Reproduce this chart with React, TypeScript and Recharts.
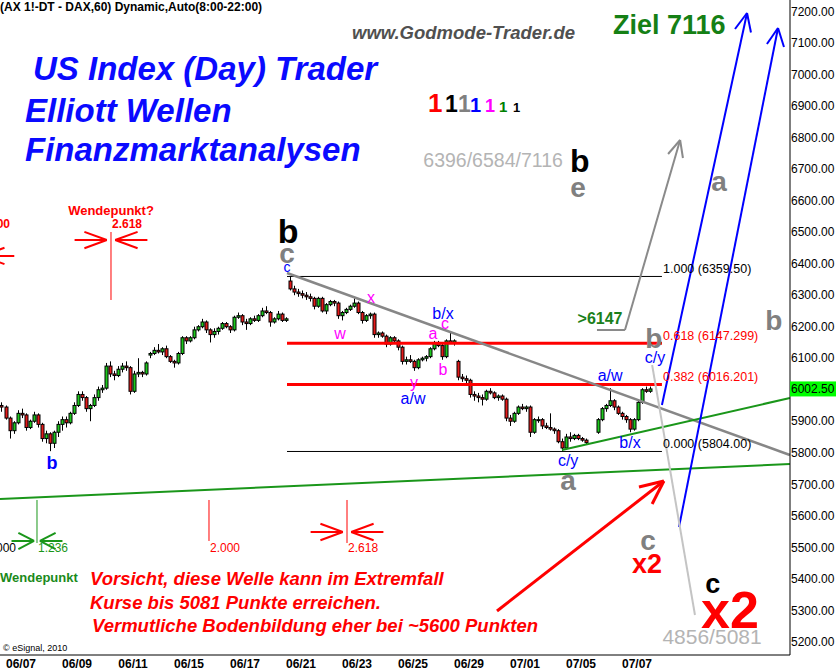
import React from "react";
import {
  ComposedChart,
  Bar,
  XAxis,
  YAxis,
  ReferenceLine,
  ReferenceDot,
} from "recharts";

const FONT = "'Liberation Sans', Arial, Helvetica, sans-serif";
const PER_DAY = 7; // hourly bars drawn per session

// trading sessions on the time axis (index = session number)
const dates = [
  "06/07", "06/08", "06/09", "06/10", "06/11", "06/14", "06/15", "06/16",
  "06/17", "06/18", "06/21", "06/22", "06/23", "06/24", "06/25", "06/28",
  "06/29", "06/30", "07/01", "07/02", "07/05", "07/06", "07/07",
];
const labelledSessions = [0, 2, 4, 6, 8, 10, 12, 14, 16, 18, 20, 22];
// 6000 is hidden behind the last-price badge
const priceTicks = [
  5200, 5300, 5400, 5500, 5600, 5700, 5800, 5900, 6100, 6200, 6300,
  6400, 6500, 6600, 6700, 6800, 6900, 7000, 7100, 7200,
];
const lastPrice = 6002.5;

// [open, high, low, close]
const june04Tail = [
  [5950, 5960, 5930, 5945],
  [5945, 5950, 5905, 5910],
];
const sessionBars = [
  [[5910,5915,5845,5870],[5870,5900,5860,5895],[5895,5935,5890,5925],[5925,5940,5910,5920],[5920,5925,5870,5880],[5880,5905,5875,5900],[5900,5930,5895,5920]],
  [[5920,5925,5880,5890],[5890,5895,5835,5845],[5845,5870,5830,5860],[5860,5865,5805,5830],[5830,5870,5815,5865],[5865,5900,5850,5890],[5890,5915,5870,5905]],
  [[5905,5915,5880,5895],[5895,5930,5890,5925],[5925,5960,5920,5950],[5950,5995,5945,5985],[5985,5995,5965,5975],[5975,5980,5930,5940],[5940,5955,5900,5950]],
  [[5950,5985,5945,5975],[5975,6010,5965,6000],[6000,6015,5990,6005],[6005,6085,6000,6075],[6075,6090,6040,6050],[6050,6060,6030,6045],[6045,6075,6040,6065]],
  [[6065,6085,6055,6075],[6075,6090,6060,6070],[6070,6075,5985,5995],[5995,6060,5990,6050],[6050,6100,6040,6055],[6055,6060,6040,6050],[6050,6090,6045,6085]],
  [[6110,6120,6100,6115],[6115,6135,6110,6125],[6125,6145,6115,6120],[6120,6135,6110,6130],[6130,6140,6100,6105],[6105,6110,6085,6090],[6090,6095,6070,6085]],
  [[6085,6120,6080,6115],[6115,6170,6110,6165],[6165,6170,6145,6155],[6155,6170,6150,6165],[6165,6200,6160,6190],[6190,6205,6185,6200],[6200,6225,6195,6215]],
  [[6215,6220,6180,6190],[6190,6195,6150,6175],[6175,6195,6165,6185],[6185,6200,6175,6195],[6195,6215,6190,6210],[6210,6215,6195,6200],[6200,6205,6180,6190]],
  [[6190,6235,6185,6230],[6230,6245,6225,6235],[6235,6240,6205,6215],[6215,6225,6190,6210],[6210,6230,6205,6225],[6225,6235,6215,6220],[6220,6240,6215,6235]],
  [[6235,6260,6230,6250],[6250,6265,6240,6245],[6245,6250,6200,6215],[6215,6230,6210,6225],[6225,6250,6220,6240],[6240,6245,6215,6220],[6220,6230,6215,6225]],
  [[6345,6359.5,6315,6320],[6320,6330,6300,6310],[6310,6320,6295,6305],[6305,6315,6290,6300],[6300,6310,6285,6295],[6295,6305,6280,6290],[6290,6295,6255,6265]],
  [[6265,6295,6260,6290],[6290,6295,6245,6250],[6250,6275,6240,6270],[6270,6285,6265,6280],[6280,6285,6265,6275],[6275,6280,6225,6235],[6235,6250,6220,6245]],
  [[6245,6260,6240,6255],[6255,6270,6250,6265],[6265,6290,6260,6275],[6275,6280,6240,6245],[6245,6250,6210,6220],[6220,6240,6215,6235],[6235,6245,6225,6240]],
  [[6240,6245,6165,6175],[6175,6185,6165,6180],[6180,6185,6165,6170],[6170,6175,6135,6145],[6145,6170,6140,6165],[6165,6170,6150,6155],[6155,6160,6125,6135]],
  [[6135,6140,6080,6090],[6090,6105,6080,6095],[6095,6110,6085,6090],[6090,6095,6060,6070],[6070,6100,6065,6095],[6095,6105,6090,6100],[6100,6110,6090,6105]],
  [[6105,6135,6100,6130],[6130,6155,6125,6150],[6150,6155,6135,6140],[6140,6145,6095,6105],[6105,6160,6100,6155],[6155,6180,6145,6150],[6150,6160,6140,6155]],
  [[6090,6095,6030,6040],[6040,6050,6025,6035],[6035,6045,6020,6030],[6030,6035,5975,5985],[5985,5995,5965,5980],[5980,5990,5960,5975],[5975,5985,5950,5970]],
  [[5970,6000,5965,5995],[5995,6005,5985,5990],[5990,5995,5970,5975],[5975,5985,5965,5980],[5980,5985,5965,5970],[5970,5975,5900,5910],[5910,5920,5885,5900]],
  [[5900,5930,5895,5925],[5925,5950,5920,5945],[5945,5955,5935,5940],[5940,5950,5930,5945],[5945,5950,5850,5865],[5865,5910,5860,5905],[5905,5915,5895,5905]],
  [[5905,5910,5875,5885],[5885,5895,5875,5880],[5880,5925,5870,5875],[5875,5880,5860,5870],[5870,5875,5830,5835],[5835,5845,5804,5815],[5815,5860,5810,5850]],
  [[5850,5865,5835,5845],[5845,5860,5840,5855],[5855,5860,5840,5845],[5845,5850,5835,5840],[5840,5845,5825,5832]],
  [[5865,5910,5860,5905],[5905,5945,5900,5940],[5940,5955,5930,5950],[5950,6005,5945,5965],[5965,5970,5935,5945],[5945,5950,5920,5925],[5925,5930,5905,5915]],
  [[5915,5920,5895,5905],[5905,5910,5865,5875],[5875,5910,5870,5905],[5905,5970,5900,5960],[5960,6005,5955,6000],[6000,6010,5990,5995],[5995,6010,5990,6002.5]],
];

// fibonacci retracement of the 6359.50 -> 5804 decline
const fibRatios = ["1.000", "0.618", "0.382", "0.000"];
const fibPrices = [6359.5, 6147.299, 6016.201, 5804];
const fibPriceText = ["6359.50", "6147.299", "6016.201", "5804.00"];
const fibFrom = 10;
const fibTo = 23.39;

// drawn lines as [time, price] pairs (time in sessions)
const fallingTrend = [[10.0, 6370.5], [27.96, 5792.8]];
const risingTrend = [[19.82, 5808.7], [27.96, 5973.7]];
const baseTrend = [[-0.25, 5653.2], [27.96, 5764.3]];
const blueTargets = [
  [[23.39, 5951.5], [26.43, 7195.7]],
  [[26.43, 7195.7], [26.0, 7145]],
  [[26.43, 7195.7], [26.57, 7133.8]],
  [[24.0, 5564.3], [27.536, 7148.1]],
  [[27.536, 7148.1], [27.14, 7097.3]],
  [[27.536, 7148.1], [27.75, 7087.8]],
];
const grayArrow = [
  [[21.07, 6189.6], [22.07, 6189.6]],
  [[22.07, 6189.6], [24.04, 6792.6]],
  [[24.04, 6792.6], [23.61, 6748.2]],
  [[24.04, 6792.6], [24.14, 6735.5]],
];
const extremePath = [[23.04, 6078.5], [24.57, 5285]];
const redArrow = [
  [[17.5, 5297.7], [23.46, 5710.3]],
  [[23.46, 5710.3], [22.57, 5691.3]],
  [[23.46, 5710.3], [23.04, 5637.3]],
];

// time projection markers: [session, top price, bottom price, arrow price]
const redTimeMarkers = [
  [3.714, 6500.6, 6284.8, 6475.2],
  [-1.04, 6500.6, 6284.8, 6424.5],
  [12.143, 5650, 5513.5, 5548.4],
];
const redTimeLines = [[7.214, 5650, 5519.9]];
const greenTimeMarkers = [[1.071, 5650, 5513.5, 5519.9]];

// wave counts [text, session, price]
const blueWaves = [
  ["b/x", 15.57, 6243.5], ["a/w", 14.5, 5973.7], ["a/w", 21.54, 6046.8],
  ["b/x", 22.25, 5834], ["c/y", 20.04, 5776.9], ["c/y", 23.14, 6103.9],
];
const magentaWaves = [
  ["x", 13.0, 6294.3], ["w", 11.89, 6180], ["a", 15.21, 6180],
  ["c", 15.64, 6211.8], ["b", 15.57, 6065.8], ["y", 14.54, 6024.5],
];
const grayWaves = [
  ["a", 20.04, 5713.5], ["b", 23.1, 6164.2], ["a", 25.43, 6662.5],
  ["b", 27.39, 6221.3], ["c", 22.89, 5523], ["e", 20.39, 6643.5],
  ["c", 10.0, 6434],
];
const targets = [["6396/6584/7116", 17.36, 6729.2], ["4856/5081", 25.18, 5218.3]];

const candles = [
  ...june04Tail.map((b, i) => ({ t: -1 + (5 + i + 0.5) / PER_DAY, o: b[0], h: b[1], l: b[2], c: b[3] })),
  ...sessionBars.flatMap((bars, d) =>
    bars.map((b, i) => ({ t: d + (i + 0.5) / PER_DAY, o: b[0], h: b[1], l: b[2], c: b[3] }))
  ),
];

const Candle = (props: any) => {
  const { x, y, width, height, payload } = props;
  if (!payload) return null;
  const { o, h, l, c } = payload;
  const top = Math.min(y, y + height);
  const hh = Math.abs(height);
  const span = h - l || 1;
  const py = (v: number) => top + ((h - v) / span) * hh;
  const cx = Math.round(x + width / 2) + 0.5;
  const b1 = py(Math.max(o, c));
  const b2 = py(Math.min(o, c));
  return (
    <g>
      <line x1={cx} x2={cx} y1={top} y2={top + hh} stroke="#000" strokeWidth={1} />
      <rect
        x={cx - 1.5}
        y={b1}
        width={3}
        height={Math.max(b2 - b1, 1)}
        fill={c >= o ? "#1ec81e" : "#e41b1b"}
        stroke="#000"
        strokeWidth={1}
      />
    </g>
  );
};

const seg = (key: string, a: number[], b: number[], stroke: string, w: number) => (
  <ReferenceLine
    key={key}
    segment={[{ x: a[0], y: a[1] }, { x: b[0], y: b[1] }]}
    stroke={stroke}
    strokeWidth={w}
    ifOverflow="visible"
  />
);

const note = (
  key: string,
  t: number,
  p: number,
  text: string,
  o: { color: string; size: number; bold?: boolean; anchor?: string; dy?: string }
) => (
  <ReferenceDot
    key={key}
    x={t}
    y={p}
    r={0}
    ifOverflow="visible"
    shape={(s: any) => (
      <text
        x={s.cx}
        y={s.cy}
        dy={o.dy ?? "0.36em"}
        textAnchor={(o.anchor as any) ?? "middle"}
        fill={o.color}
        fontSize={o.size}
        fontWeight={o.bold ? 700 : 400}
        fontFamily={FONT}
      >
        {text}
      </text>
    )}
  />
);

// arrows pointing at a projected session from both sides
const timeMarker = (k: string, m: number[], color: string, scale: number) => {
  const [t, top, bottom, ap] = m;
  const gap = 0.15 * scale;
  const shaft = 1.15 * scale;
  const back = 0.8 * scale;
  const spread = 26;
  return [
    seg(k + "v", [t, top], [t, bottom], color, 1),
    seg(k + "ls", [t - gap - shaft, ap], [t - gap, ap], color, 2),
    seg(k + "lh1", [t - gap, ap], [t - gap - back, ap + spread], color, 2),
    seg(k + "lh2", [t - gap, ap], [t - gap - back, ap - spread], color, 2),
    seg(k + "rs", [t + gap + shaft, ap], [t + gap, ap], color, 2),
    seg(k + "rh1", [t + gap, ap], [t + gap + back, ap + spread], color, 2),
    seg(k + "rh2", [t + gap, ap], [t + gap + back, ap - spread], color, 2),
  ];
};

const PriceBadge = (s: any) => (
  <g>
    <rect x={s.cx} y={s.cy - 7.5} width={46} height={15} fill="#00ff00" />
    <text x={s.cx + 1} y={s.cy} dy="0.36em" fontSize={12} fontFamily={FONT} fill="#000">
      {lastPrice.toFixed(2)}
    </text>
  </g>
);

const degreeColors = ["#ff0000", "#000000", "#808080", "#0000ff", "#ff00ff", "#008000", "#000000"];
const degreeSizes = [26, 23, 23, 20, 18, 15, 13];
const degreeX = [428, 445, 458, 470, 485, 499, 513];

export default function App() {
  return (
    <div style={{ position: "absolute", left: 0, top: 0, width: 836, height: 672, background: "#fff" }}>
      <style>{"body{margin:0}"}</style>
      <ComposedChart
        width={836}
        height={672}
        data={candles}
        margin={{ top: 0, right: 0, left: 0, bottom: 0 }}
      >
        <XAxis
          dataKey="t"
          type="number"
          domain={[-0.25, 27.964]}
          allowDataOverflow
          ticks={labelledSessions.map((d) => d + 0.5)}
          tickFormatter={(v) => dates[Math.floor(v)] ?? ""}
          interval={0}
          height={17}
          tickSize={0}
          tickMargin={4}
          tickLine={false}
          axisLine={{ stroke: "#000" }}
          tick={{ fill: "#000", fontSize: 12, fontWeight: 700, fontFamily: FONT }}
        />
        <YAxis
          orientation="right"
          type="number"
          domain={[5158, 7237]}
          allowDataOverflow
          ticks={priceTicks}
          tickFormatter={(v) => Number(v).toFixed(2)}
          interval={0}
          width={46}
          tickSize={0}
          tickMargin={1}
          tickLine={false}
          axisLine={{ stroke: "#000" }}
          tick={{ fill: "#000", fontSize: 12, fontFamily: FONT }}
        />

        {/* fibonacci levels */}
        {fibPrices.map((p, i) =>
          seg("fib" + i, [fibFrom, p], [fibTo, p], i === 1 || i === 2 ? "#ff0000" : "#000", i === 1 || i === 2 ? 3 : 1)
        )}

        <Bar
          dataKey={(d: any) => [d.l, d.h]}
          barSize={3}
          shape={Candle}
          isAnimationActive={false}
        />

        {seg("fall", fallingTrend[0], fallingTrend[1], "#878787", 2.5)}
        {seg("rise", risingTrend[0], risingTrend[1], "#1a961a", 2)}
        {seg("base", baseTrend[0], baseTrend[1], "#1a961a", 2)}
        {blueTargets.map((s, i) => seg("blue" + i, s[0], s[1], "#0000ff", 2))}
        {grayArrow.map((s, i) => seg("gray" + i, s[0], s[1], "#8a8a8a", 2))}
        {seg("ext", extremePath[0], extremePath[1], "#c4c4c4", 2)}
        {redArrow.map((s, i) => seg("red" + i, s[0], s[1], "#ff0000", 3))}
        {redTimeMarkers.flatMap((m, i) => timeMarker("rt" + i, m, "#ff0000", 1))}
        {redTimeLines.map((m, i) => seg("rl" + i, [m[0], m[1]], [m[0], m[2]], "#ff0000", 1))}
        {greenTimeMarkers.flatMap((m, i) => timeMarker("gt" + i, m, "#1a961a", 0.7))}

        {/* fib labels */}
        {fibPrices.map((p, i) =>
          note("fl" + i, 23.43, p, `${fibRatios[i]} (${fibPriceText[i]})`, {
            color: i === 1 || i === 2 ? "#ff0000" : "#000",
            size: 12.5,
            anchor: "start",
            dy: "-0.25em",
          })
        )}

        {/* time projection labels */}
        {note("wp1", 3.714, 6570.5, "Wendepunkt?", { color: "#ff0000", size: 13, bold: true })}
        {note("wp2", 3.75, 6526, "2.618", { color: "#ff0000", size: 12, bold: true, anchor: "start" })}
        {note("wp3", 0.107, 6526, "2.000", { color: "#ff0000", size: 12, bold: true, anchor: "end" })}
        {note("tp1", 0.321, 5497.6, "1.000", { color: "#000", size: 12, anchor: "end" })}
        {note("tp2", 1.107, 5497.6, "1.236", { color: "#1a961a", size: 12, anchor: "start" })}
        {note("tp3", 7.25, 5497.6, "2.000", { color: "#ff0000", size: 12, anchor: "start" })}
        {note("tp4", 12.18, 5497.6, "2.618", { color: "#ff0000", size: 12, anchor: "start" })}
        {note("tp5", -0.25, 5405.6, "Wendepunkt", { color: "#1a8a1a", size: 13, bold: true, anchor: "start" })}

        {/* wave counts */}
        {note("wb0", 1.607, 5767.4, "b", { color: "#0000ff", size: 18, bold: true })}
        {note("wc0", 10.0, 6389.5, "c", { color: "#0000ff", size: 14 })}
        {blueWaves.map((w, i) => note("bw" + i, w[1] as number, w[2] as number, w[0] as string, { color: "#0000ff", size: 16 }))}
        {magentaWaves.map((w, i) => note("mw" + i, w[1] as number, w[2] as number, w[0] as string, { color: "#ff00ff", size: 16 }))}
        {grayWaves.map((w, i) => note("gw" + i, w[1] as number, w[2] as number, w[0] as string, { color: "#808080", size: 28, bold: true }))}
        {note("kb1", 10.04, 6503.8, "b", { color: "#000", size: 34, bold: true })}
        {note("kb2", 20.46, 6729.2, "b", { color: "#000", size: 32, bold: true })}
        {note("kc", 25.21, 5386.6, "c", { color: "#000", size: 27, bold: true })}
        {note("x2a", 22.86, 5450, "x2", { color: "#ff0000", size: 27, bold: true })}
        {note("x2b", 25.82, 5304, "x2", { color: "#ff0000", size: 52, bold: true })}
        {note("gt6147", 21.18, 6227.7, ">6147", { color: "#1a801a", size: 16, bold: true })}
        {targets.map((w, i) => note("tg" + i, w[1] as number, w[2] as number, w[0] as string, { color: "#b4b4b4", size: i === 0 ? 19.5 : 21 }))}

        <ReferenceDot x={27.964} y={lastPrice} r={0} ifOverflow="visible" shape={PriceBadge} />
      </ComposedChart>

      <svg
        width={836}
        height={672}
        style={{ position: "absolute", left: 0, top: 0, pointerEvents: "none" }}
        fontFamily={FONT}
      >
        <text x={0} y={11} fontSize={12} fontWeight={700} fill="#000">
          (AX 1!-DT - DAX,60) Dynamic,Auto(8:00-22:00)
        </text>
        <text x={352} y={39} fontSize={18.5} fontWeight={700} fontStyle="italic" fill="#505050">
          www.Godmode-Trader.de
        </text>
        <g fontSize={33} fontWeight={700} fontStyle="italic" fill="#0a0aff">
          <text x={33} y={80}>US Index (Day) Trader</text>
          <text x={25} y={122}>Elliott Wellen</text>
          <text x={25} y={161}>Finanzmarktanalysen</text>
        </g>
        <text x={613} y={34} fontSize={27} fontWeight={700} fill="#158015">
          Ziel 7116
        </text>
        {degreeColors.map((c, i) => (
          <text key={i} x={degreeX[i]} y={112} fontSize={degreeSizes[i]} fontWeight={700} fill={c}>
            1
          </text>
        ))}
        <g fontSize={18.5} fontWeight={700} fontStyle="italic" fill="#ff0000">
          <text x={90} y={585}>Vorsicht, diese Welle kann im Extremfall</text>
          <text x={90} y={608.5}>Kurse bis 5081 Punkte erreichen.</text>
          <text x={92} y={632}>Vermutliche Bodenbildung eher bei ~5600 Punkten</text>
        </g>
        <text x={3} y={651} fontSize={9} fill="#000">
          © eSignal, 2010
        </text>
      </svg>
    </div>
  );
}
